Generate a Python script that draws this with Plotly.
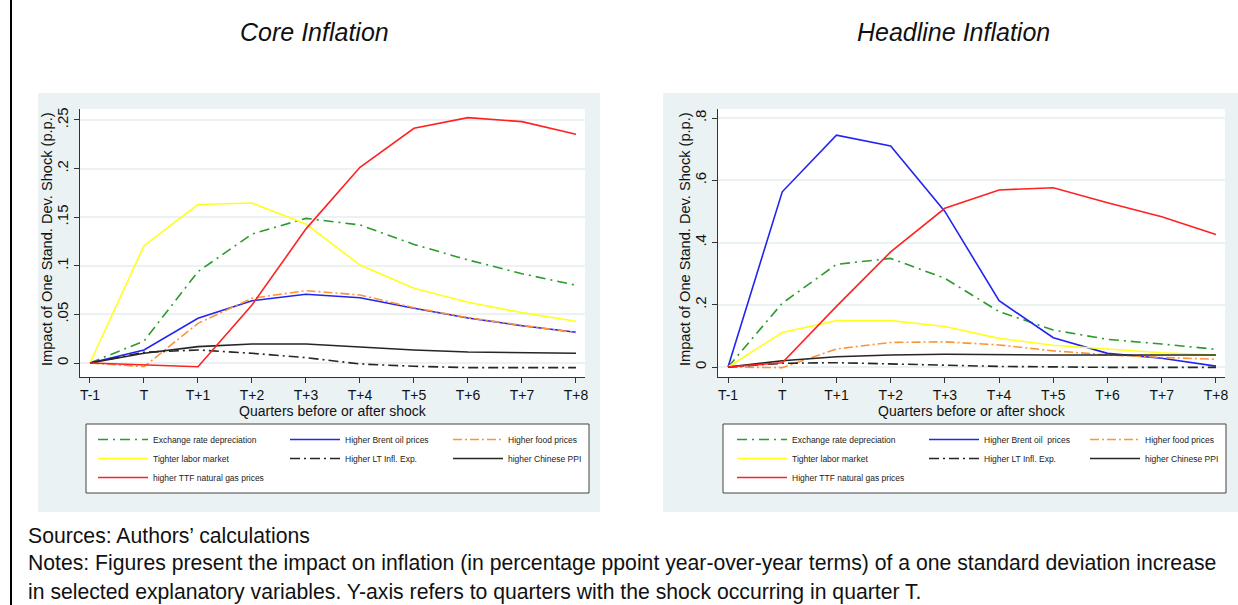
import plotly.graph_objects as go

W, H = 1238, 605

# ---- data -------------------------------------------------------------
quarters = ["T-1", "T", "T+1", "T+2", "T+3", "T+4", "T+5", "T+6", "T+7", "T+8"]

# Core inflation responses (p.p.)
core_exchange_rate = [0, 0.0226, 0.094, 0.1327, 0.1488, 0.142, 0.122, 0.106, 0.0919, 0.080]
core_brent_oil = [0, 0.0134, 0.046, 0.064, 0.0707, 0.0672, 0.0563, 0.0463, 0.0384, 0.0316]
core_food = [0, -0.0038, 0.0408, 0.0666, 0.0744, 0.070, 0.0569, 0.0466, 0.0388, 0.0312]
core_labor = [0, 0.1207, 0.163, 0.1646, 0.143, 0.1008, 0.0768, 0.0624, 0.0518, 0.0429]
core_lt_expect = [0, 0.011, 0.0134, 0.010, 0.0055, -0.001, -0.0034, -0.0048, -0.0048, -0.0048]
core_chinese_ppi = [0, 0.010, 0.0168, 0.0195, 0.0195, 0.0165, 0.0134, 0.0113, 0.0103, 0.010]
core_ttf_gas = [0, -0.0017, -0.0038, 0.0597, 0.138, 0.2013, 0.2414, 0.2524, 0.2483, 0.2353]

# Headline inflation responses (p.p.)
head_exchange_rate = [0, 0.205, 0.33, 0.349, 0.285, 0.178, 0.119, 0.089, 0.074, 0.057]
head_brent_oil = [0, 0.563, 0.745, 0.710, 0.50, 0.213, 0.094, 0.044, 0.028, 0.003]
head_food = [0, -0.002, 0.058, 0.079, 0.081, 0.071, 0.052, 0.039, 0.031, 0.025]
head_labor = [0, 0.111, 0.149, 0.149, 0.13, 0.092, 0.070, 0.057, 0.046, 0.0386]
head_lt_expect = [0, 0.012, 0.014, 0.011, 0.006, 0.002, 0, -0.001, -0.001, -0.001]
head_chinese_ppi = [0, 0.020, 0.033, 0.0386, 0.041, 0.0386, 0.0386, 0.0386, 0.0386, 0.0386]
head_ttf_gas = [0, 0.014, 0.195, 0.370, 0.51, 0.569, 0.576, 0.528, 0.483, 0.426]

core_names = ["Exchange rate depreciation", "Higher Brent oil prices", "Higher food prices",
              "Tighter labor market", "Higher LT Infl. Exp.", "higher Chinese PPI",
              "higher TTF natural gas prices"]
head_names = ["Exchange rate depreciation", "Higher Brent oil  prices", "Higher food prices",
              "Tighter labor market", "Higher LT Infl. Exp.", "higher Chinese PPI",
              "Higher TTF natural gas prices"]

core_yticks = [0, 0.05, 0.1, 0.15, 0.2, 0.25]
core_yticklabels = ["0", ".05", ".1", ".15", ".2", ".25"]
head_yticks = [0, 0.2, 0.4, 0.6, 0.8]
head_yticklabels = ["0", ".2", ".4", ".6", ".8"]

# ---- styles -----------------------------------------------------------
styles = [
    dict(color="#2b9b2b", dash="10px,5px,2px,5px"),
    dict(color="#2424f0", dash="solid"),
    dict(color="#ff9436", dash="9px,3px,2px,3px"),
    dict(color="#ffff1e", dash="solid"),
    dict(color="#262626", dash="10px,4px,2px,4px"),
    dict(color="#262626", dash="solid"),
    dict(color="#ff2222", dash="solid"),
]
# legend column for each series (three columns, filled row by row)
columns = [0, 1, 2, 0, 1, 2, 0]


def px_x(x):
    return x / W


def px_y(y):
    return 1 - y / H


FONT = "Liberation Sans, Arial, sans-serif"
fig = go.Figure()

panels = [
    dict(series=[core_exchange_rate, core_brent_oil, core_food, core_labor,
                 core_lt_expect, core_chinese_ppi, core_ttf_gas],
         names=core_names, xa="x", ya="y", legends=["legend", "legend2", "legend3"]),
    dict(series=[head_exchange_rate, head_brent_oil, head_food, head_labor,
                 head_lt_expect, head_chinese_ppi, head_ttf_gas],
         names=head_names, xa="x2", ya="y2", legends=["legend4", "legend5", "legend6"]),
]

for p in panels:
    for vals, name, st, col in zip(p["series"], p["names"], styles, columns):
        fig.add_trace(go.Scatter(
            x=quarters, y=vals, name=name, mode="lines",
            line=dict(color=st["color"], dash=st["dash"], width=1.6),
            xaxis=p["xa"], yaxis=p["ya"], legend=p["legends"][col],
            hoverinfo="skip",
        ))

# plot-area boxes in pixels
left_box = (80, 585, 109, 377)
right_box = (718, 1225, 109, 377)

axis_common = dict(
    showline=True, linecolor="#333333", linewidth=1,
    ticks="outside", ticklen=5, tickwidth=1, tickcolor="#333333",
    zeroline=False, automargin=False,
)

def xaxis_for(box):
    return dict(axis_common, domain=[px_x(box[0]), px_x(box[1])],
                type="category", range=[-0.185, 9.167], showgrid=False,
                tickfont=dict(family=FONT, size=14, color="#111111"),
                title=dict(text="Quarters before or after shock",
                           font=dict(family=FONT, size=14, color="#111111"), standoff=0))

def yaxis_for(box, rng, tv, tt):
    return dict(axis_common, domain=[px_y(box[3]), px_y(box[2])], range=rng,
                tickvals=tv, ticktext=tt, tickangle=-90,
                tickfont=dict(family=FONT, size=15, color="#111111"),
                ticklabelstandoff=0,
                showgrid=True, gridcolor="#eaf2f3", gridwidth=2)

layout = dict(
    width=W, height=H, margin=dict(l=0, r=0, t=0, b=0),
    paper_bgcolor="white", plot_bgcolor="white",
    xaxis=dict(xaxis_for(left_box), anchor="y"),
    yaxis=yaxis_for(left_box, [-0.0144, 0.2613], core_yticks, core_yticklabels) | dict(anchor="x"),
    xaxis2=dict(xaxis_for(right_box), anchor="y2"),
    yaxis2=yaxis_for(right_box, [-0.032, 0.829], head_yticks, head_yticklabels) | dict(anchor="x2"),
    showlegend=True,
)

# legends: one vertical legend per column
legend_text_x = [153, 345, 508, 792, 984, 1145]
legend_keys = ["legend", "legend2", "legend3", "legend4", "legend5", "legend6"]
for key, tx in zip(legend_keys, legend_text_x):
    layout[key] = dict(
        x=px_x(tx - 60), xanchor="left", y=px_y(425), yanchor="top",
        orientation="v", bgcolor="rgba(0,0,0,0)", borderwidth=0,
        itemwidth=50, tracegroupgap=0, traceorder="normal",
        font=dict(family=FONT, size=8.5, color="#222222"),
        itemclick=False, itemdoubleclick=False,
    )

fig.update_layout(**layout)

shapes = []
# panel backgrounds
for x0, x1 in [(38, 600), (663, 1238)]:
    shapes.append(dict(type="rect", xref="paper", yref="paper", layer="below",
                       x0=px_x(x0), x1=px_x(x1), y0=px_y(512), y1=px_y(93),
                       fillcolor="#eaf2f3", line=dict(width=0)))
# white plot regions
for b in [left_box, right_box]:
    shapes.append(dict(type="rect", xref="paper", yref="paper", layer="below",
                       x0=px_x(b[0]), x1=px_x(b[1]), y0=px_y(b[3]), y1=px_y(b[2]),
                       fillcolor="white", line=dict(width=0)))
# legend frames
for x0, x1 in [(86, 589), (723, 1226)]:
    shapes.append(dict(type="rect", xref="paper", yref="paper", layer="below",
                       x0=px_x(x0), x1=px_x(x1), y0=px_y(493), y1=px_y(424),
                       fillcolor="white", line=dict(color="#444444", width=1)))
# page rule on the left
shapes.append(dict(type="line", xref="paper", yref="paper",
                   x0=px_x(11), x1=px_x(11), y0=0, y1=1,
                   line=dict(color="black", width=2)))
fig.update_layout(shapes=shapes)

annotations = [
    dict(text="<i>Core Inflation</i>", x=px_x(314), y=px_y(32)),
    dict(text="<i>Headline Inflation</i>", x=px_x(953), y=px_y(32)),
]
for a in annotations:
    a.update(xref="paper", yref="paper", showarrow=False, xanchor="center", yanchor="middle",
             font=dict(family=FONT, size=25, color="#111111"))

# vertical axis titles
for xpx in [47, 685]:
    annotations.append(dict(text="Impact of One Stand. Dev. Shock (p.p.)",
                            x=px_x(xpx), y=px_y(239), xref="paper", yref="paper",
                            showarrow=False, textangle=-90,
                            xanchor="center", yanchor="middle",
                            font=dict(family=FONT, size=14.6, color="#111111")))

notes = [
    ("Sources: Authors\u2019 calculations", 535),
    ("Notes: Figures present the impact on inflation (in percentage ppoint year-over-year terms) "
     "of a one standard deviation increase", 563),
    ("in selected explanatory variables. Y-axis refers to quarters with the shock occurring in quarter T.", 592),
]
for txt, yy in notes:
    annotations.append(dict(text=txt, x=px_x(26), y=px_y(yy), xref="paper", yref="paper",
                            showarrow=False, xanchor="left", yanchor="middle",
                            font=dict(family=FONT, size=21.2, color="#111111")))
fig.update_layout(annotations=annotations)

fig.write_html("out.html")
